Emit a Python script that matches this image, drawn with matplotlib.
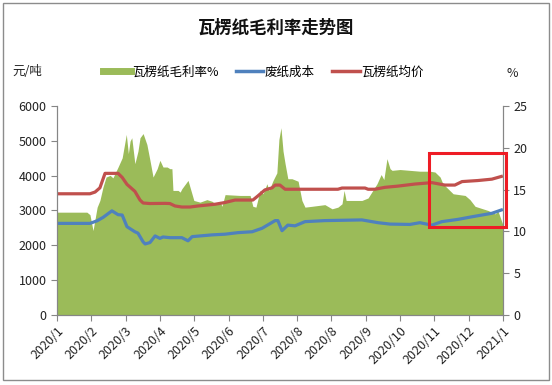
import matplotlib
matplotlib.use("Agg")
import matplotlib.pyplot as plt
from matplotlib.lines import Line2D
from matplotlib.patches import Rectangle

plt.rcParams['font.family'] = ['Noto Sans CJK SC', 'DejaVu Sans']

# x positions are in months since 2020/1 (one category tick per month label)
month_labels = ["2020/1", "2020/2", "2020/3", "2020/4", "2020/5", "2020/6", "2020/7",
                "2020/8", "2020/8", "2020/9", "2020/10", "2020/11", "2020/12", "2021/1"]

# 瓦楞纸毛利率% (right axis)
margin_x = [0, 0.87, 0.96, 1.05, 1.17, 1.25, 1.34, 1.43, 1.55, 1.63, 1.78, 1.90, 2.02, 2.08,
            2.13, 2.18, 2.27, 2.36, 2.42, 2.51, 2.62, 2.71, 2.80, 2.92, 3.00, 3.09, 3.21, 3.29,
            3.35, 3.38, 3.53, 3.59, 3.64, 3.82, 3.99, 4.17, 4.37, 4.52, 4.61, 4.75, 4.81, 4.90,
            5.34, 5.63, 5.71, 5.80, 5.92, 6.01, 6.12, 6.18, 6.30, 6.41, 6.47, 6.53, 6.59, 6.65,
            6.73, 6.85, 7.03, 7.14, 7.23, 7.43, 7.81, 8.02, 8.19, 8.31, 8.37, 8.43, 8.89, 9.07,
            9.33, 9.45, 9.53, 9.62, 9.71, 9.77, 10.00, 10.29, 10.58, 10.87, 11.02, 11.17, 11.25,
            11.55, 11.90, 12.04, 12.19, 12.57, 12.77, 12.86, 13.00]
margin = [12.3, 12.3, 12.0, 10.1, 12.9, 13.7, 15.3, 16.5, 16.7, 16.4, 17.7, 18.8, 21.6, 19.3,
          20.8, 21.2, 18.1, 19.6, 21.2, 21.7, 20.4, 18.5, 16.5, 17.5, 18.5, 17.7, 17.7, 17.5,
          17.5, 14.9, 14.9, 14.7, 15.1, 16.1, 13.7, 13.5, 13.8, 13.6, 13.3, 13.6, 13.0, 14.4,
          14.3, 14.3, 13.0, 12.9, 14.9, 14.5, 15.7, 14.9, 16.1, 17.0, 21.0, 22.4, 19.6, 18.1,
          16.3, 16.3, 16.0, 13.7, 12.9, 13.0, 13.2, 12.7, 12.9, 13.3, 14.9, 13.7, 13.7, 14.0,
          15.7, 16.8, 16.2, 18.7, 17.5, 17.3, 17.4, 17.3, 17.2, 17.2, 17.1, 16.5, 15.7,
          14.5, 14.3, 13.8, 13.0, 12.5, 12.1, 12.4, 10.8]

# 瓦楞纸均价 (left axis, 元/吨)
price_x = [0, 0.96, 1.11, 1.25, 1.40, 1.78, 1.90, 2.04, 2.27, 2.42, 2.51, 2.71, 3.15, 3.29,
           3.44, 3.64, 3.88, 4.11, 4.61, 4.90, 5.19, 5.71, 5.86, 6.06, 6.27, 6.36, 6.50, 6.65,
           8.19, 8.31, 8.98, 9.07, 9.27, 9.56, 9.94, 10.44, 10.93, 11.31, 11.60, 11.81, 12.27,
           12.68, 13.00]
price = [3480, 3480, 3530, 3650, 4066, 4066, 3950, 3750, 3550, 3300, 3215, 3200, 3205, 3200,
         3130, 3100, 3100, 3130, 3180, 3230, 3300, 3300, 3420, 3590, 3650, 3730, 3730, 3610,
         3610, 3645, 3645, 3610, 3610, 3665, 3700, 3760, 3800, 3730, 3730, 3830, 3860,
         3900, 3990]

# 废纸成本 (left axis, 元/吨)
cost_x = [0, 0.96, 1.17, 1.34, 1.60, 1.78, 1.90, 2.04, 2.27, 2.36, 2.51, 2.57, 2.71, 2.86,
          3.00, 3.09, 3.29, 3.64, 3.82, 3.94, 4.52, 4.90, 5.28, 5.69, 5.98, 6.36, 6.44, 6.56,
          6.73, 6.94, 7.23, 7.81, 8.89, 9.36, 9.71, 10.29, 10.58, 10.93, 11.22, 11.69, 12.10,
          12.68, 13.00]
cost = [2630, 2630, 2705, 2800, 2990, 2880, 2870, 2535, 2390, 2350, 2100, 2040, 2080, 2270,
        2200, 2240, 2220, 2220, 2130, 2250, 2300, 2320, 2365, 2390, 2490, 2710, 2710, 2420,
        2580, 2560, 2680, 2710, 2730, 2650, 2610, 2600, 2650, 2580, 2680, 2745, 2820,
        2920, 3030]

green = "#9BBB59"
blue = "#4F81BD"
red = "#C0504D"
axis_gray = "#868686"

fig = plt.figure(figsize=(5.52, 3.85), dpi=100)
ax = fig.add_axes([0.1033, 0.1818, 0.8077, 0.5429])
ax2 = ax.twinx()

# area on the right axis, drawn behind the lines
ax2.fill_between(margin_x, margin, 0, color=green, linewidth=0, zorder=1)
ax.set_zorder(ax2.get_zorder() + 1)
ax.patch.set_visible(False)
ax.plot(cost_x, cost, color=blue, lw=2.3, solid_capstyle='butt')
ax.plot(price_x, price, color=red, lw=2.3, solid_capstyle='butt')

ax.set_xlim(0, 13)
ax.set_ylim(0, 6000)
ax2.set_ylim(0, 25)
ax.set_yticks(range(0, 6001, 1000))
ax2.set_yticks(range(0, 26, 5))
ax.set_xticks(range(len(month_labels)))
ax.set_xticklabels(month_labels, rotation=45, ha='right', rotation_mode='anchor')

for a in (ax, ax2):
    a.spines['top'].set_visible(False)
    for s in ('left', 'right', 'bottom'):
        a.spines[s].set_color(axis_gray)
        a.spines[s].set_linewidth(0.8)
    a.tick_params(colors=axis_gray, labelcolor="#222222", labelsize=9, length=4, width=0.8)
ax.tick_params(axis='x', pad=3)

# highlight box on the last two months
ax.add_patch(Rectangle((10.85, 2535), 2.23, 2107, fill=False, edgecolor="#EE1C25",
                       lw=2.2, clip_on=False, zorder=5))

fig.text(0.5, 0.927, "瓦楞纸毛利率走势图", ha='center', va='center', fontsize=12.5,
         fontweight='bold', color="#111111")
fig.text(0.022, 0.813, "元/吨", ha='left', va='center', fontsize=9, color="#222222")
fig.text(0.917, 0.808, "%", ha='left', va='center', fontsize=9, color="#222222")

handles = [Line2D([], [], color=green, lw=5),
           Line2D([], [], color=blue, lw=2.5),
           Line2D([], [], color=red, lw=2.5)]
fig.legend(handles, ["瓦楞纸毛利率%", "废纸成本", "瓦楞纸均价"], loc='center',
           bbox_to_anchor=(0.477, 0.813), ncol=3, frameon=False, fontsize=9,
           handlelength=2.2, handletextpad=0.1, columnspacing=1.4)

fig.patches.append(Rectangle((0.006, 0.012), 0.988, 0.98, transform=fig.transFigure,
                             fill=False, edgecolor="#8C8C8C", lw=1))

fig.savefig("out.png", dpi=100)
